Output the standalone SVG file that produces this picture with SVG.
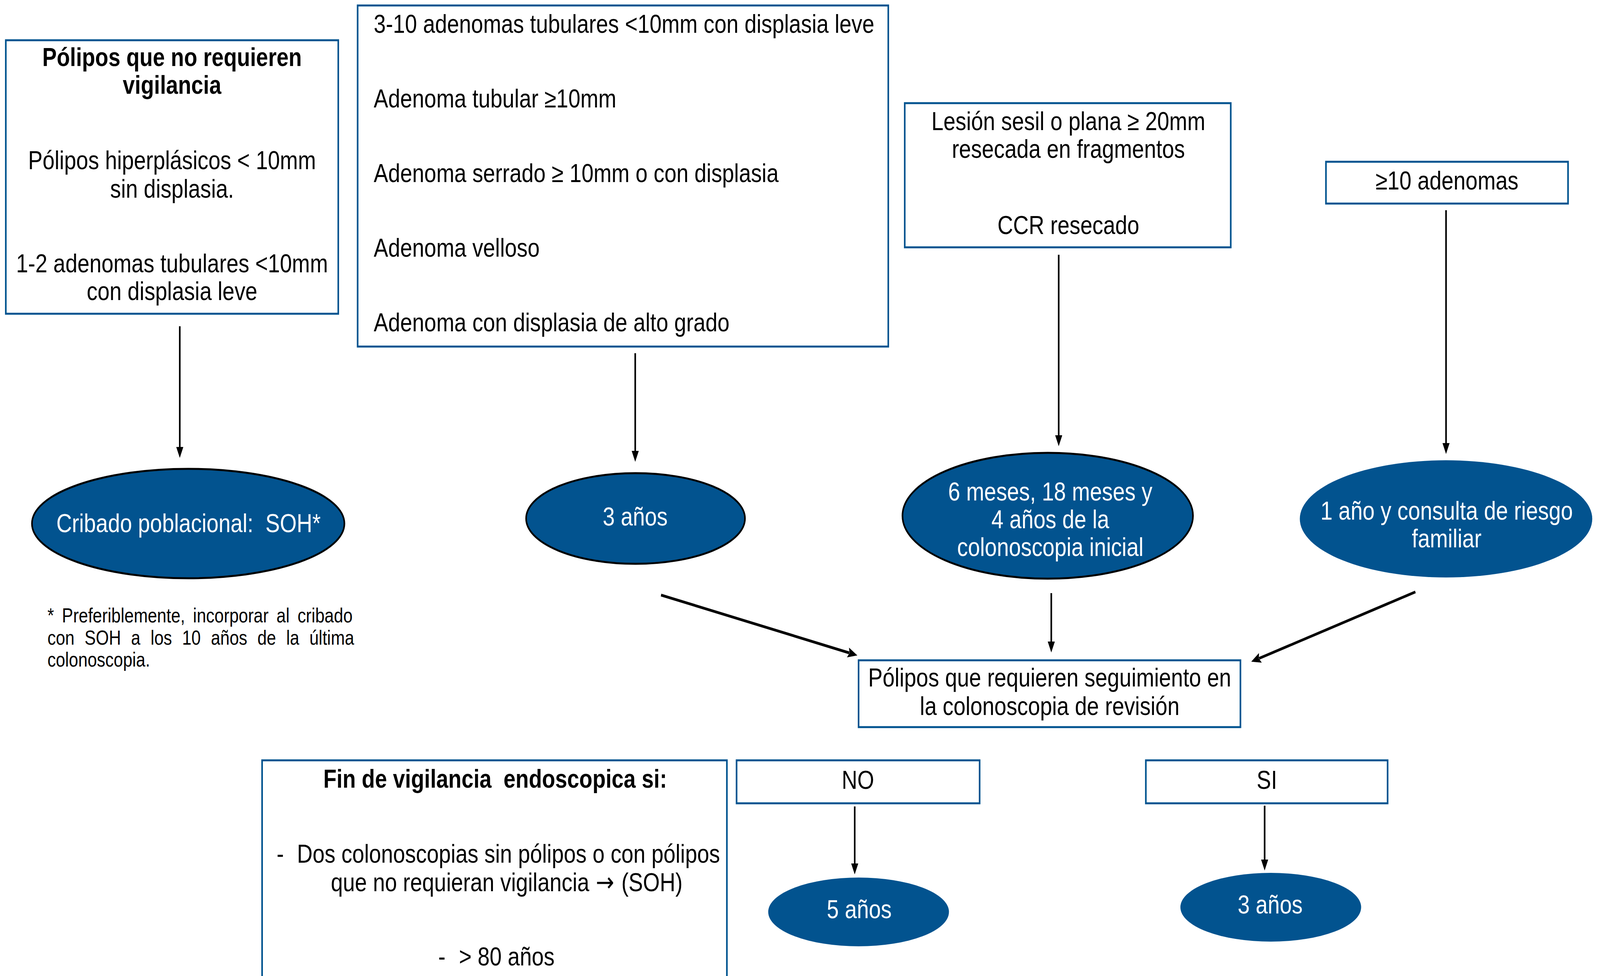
<svg xmlns="http://www.w3.org/2000/svg" width="4957" height="2498" viewBox="0 0 4957 2498" preserveAspectRatio="none" style="width:100vw;height:100vh;display:block">
<style>
.box{fill:#fff;stroke:#00538F;stroke-width:5}
.ell{fill:#02538F;stroke:#000;stroke-width:5}
.ell2{fill:#02538F;stroke:none}
.t{font-family:"Liberation Sans",Arial,Helvetica,sans-serif;font-size:67px;fill:#000}
.b{font-weight:bold}
.m{text-anchor:middle}
.w{fill:#fff}
.fn{font-size:52px}
.arw{font-family:"DejaVu Sans",sans-serif;font-size:68px;fill:#000}
.c{stroke:#000;stroke-width:5;fill:none}
.c2{stroke:#000;stroke-width:7;fill:none}
</style>
<defs>
<marker id="ah" markerUnits="userSpaceOnUse" markerWidth="28" markerHeight="22" refX="0" refY="11" orient="auto" viewBox="0 0 28 22">
<path d="M0,0 L28,11 L0,22 Z" fill="#000"/>
</marker>
<marker id="ah2" markerUnits="userSpaceOnUse" markerWidth="30" markerHeight="26" refX="4" refY="13" orient="auto" viewBox="0 0 30 26">
<path d="M0,0 L30,13 L0,26 L5,13 Z" fill="#000"/>
</marker>
</defs>
<rect width="4957" height="2498" fill="#fff"/>

<g id="connectors">
<line class="c" x1="557" y1="835" x2="557" y2="1144" marker-end="url(#ah)"/>
<line class="c" x1="1968" y1="904" x2="1968" y2="1154" marker-end="url(#ah)"/>
<line class="c" x1="3280" y1="652" x2="3280" y2="1114" marker-end="url(#ah)"/>
<line class="c" x1="4480" y1="538" x2="4480" y2="1134" marker-end="url(#ah)"/>
<line class="c2" x1="2048" y1="1523" x2="2631" y2="1671" marker-end="url(#ah2)"/>
<line class="c" x1="3257" y1="1518" x2="3257" y2="1642" marker-end="url(#ah)"/>
<line class="c2" x1="4385" y1="1515" x2="3901" y2="1685" marker-end="url(#ah2)"/>
<line class="c" x1="2648" y1="2064" x2="2648" y2="2210" marker-end="url(#ah)"/>
<line class="c" x1="3918" y1="2062" x2="3918" y2="2200" marker-end="url(#ah)"/>
</g>

<g id="no-vigilancia">
<rect class="box" x="18" y="103" width="1030" height="700"/>
<text class="t b m"><tspan x="533" y="169">Pólipos que no requieren</tspan><tspan x="533" y="240">vigilancia</tspan></text>
<text class="t m"><tspan x="533" y="433">Pólipos hiperplásicos &lt; 10mm</tspan><tspan x="533" y="506">sin displasia.</tspan><tspan x="533" y="697">1-2 adenomas tubulares &lt;10mm</tspan><tspan x="533" y="768">con displasia leve</tspan></text>
</g>

<g id="adenomas">
<rect class="box" x="1108" y="14" width="1644" height="873"/>
<text class="t"><tspan x="1158" y="84">3-10 adenomas tubulares &lt;10mm con displasia leve</tspan><tspan x="1158" y="275">Adenoma tubular ≥10mm</tspan><tspan x="1158" y="466">Adenoma serrado ≥ 10mm o con displasia</tspan><tspan x="1158" y="657">Adenoma velloso</tspan><tspan x="1158" y="848">Adenoma con displasia de alto grado</tspan></text>
</g>

<g id="lesion">
<rect class="box" x="2803" y="264" width="1010" height="369"/>
<text class="t m"><tspan x="3310" y="333">Lesión sesil o plana ≥ 20mm</tspan><tspan x="3310" y="404">resecada en fragmentos</tspan><tspan x="3310" y="599">CCR resecado</tspan></text>
</g>

<g id="diez-adenomas">
<rect class="box" x="4108" y="414" width="750" height="107"/>
<text class="t m" x="4483" y="485">≥10 adenomas</text>
</g>

<g id="cribado">
<ellipse class="ell" cx="583" cy="1340" rx="484" ry="140"/>
<text class="t m w" x="584" y="1362">Cribado poblacional: &#160;SOH*</text>
</g>

<g id="footnote">
<text class="t fn"><tspan x="147" y="1593" word-spacing="10.2">* Preferiblemente, incorporar al cribado</tspan><tspan x="147" y="1650" word-spacing="16.9">con SOH a los 10 años de la última</tspan><tspan x="147" y="1706">colonoscopia.</tspan></text>
</g>

<g id="tres-anos">
<ellipse class="ell" cx="1969" cy="1327" rx="339" ry="116"/>
<text class="t m w" x="1968" y="1345">3 años</text>
</g>

<g id="seis-meses">
<ellipse class="ell" cx="3246" cy="1320" rx="450" ry="161"/>
<text class="t m w"><tspan x="3254" y="1281">6 meses, 18 meses y</tspan><tspan x="3254" y="1352">4 años de la</tspan><tspan x="3254" y="1423">colonoscopia inicial</tspan></text>
</g>

<g id="un-ano">
<ellipse class="ell2" cx="4480" cy="1328" rx="453" ry="150"/>
<text class="t m w"><tspan x="4482" y="1330">1 año y consulta de riesgo</tspan><tspan x="4482" y="1401">familiar</tspan></text>
</g>

<g id="seguimiento">
<rect class="box" x="2660" y="1690" width="1183" height="171"/>
<text class="t m"><tspan x="3252" y="1757">Pólipos que requieren seguimiento en</tspan><tspan x="3252" y="1830">la colonoscopia de revisión</tspan></text>
</g>

<g id="fin-vigilancia">
<rect class="box" x="812" y="1946" width="1440" height="560"/>
<text class="t b m" x="1534" y="2016">Fin de vigilancia &#160;endoscopica si:</text>
<text class="t"><tspan x="857" y="2208">-</tspan><tspan x="920" y="2208">Dos colonoscopias sin pólipos o con pólipos</tspan></text>
<text class="t" x="1025" y="2281">que no requieran vigilancia</text>
<text class="arw" x="1846" y="2281">→</text>
<text class="t" x="1925" y="2281">(SOH)</text>
<text class="t"><tspan x="1358" y="2471">-</tspan><tspan x="1422" y="2471">&gt; 80 años</tspan></text>
</g>

<g id="no">
<rect class="box" x="2282" y="1946" width="753" height="110"/>
<text class="t m" x="2658" y="2019">NO</text>
</g>

<g id="si">
<rect class="box" x="3550" y="1946" width="749" height="110"/>
<text class="t m" x="3925" y="2019">SI</text>
</g>

<g id="cinco-anos">
<ellipse class="ell2" cx="2660" cy="2334" rx="280" ry="88"/>
<text class="t m w" x="2662" y="2350">5 años</text>
</g>

<g id="tres-anos-si">
<ellipse class="ell2" cx="3937" cy="2322" rx="280" ry="88"/>
<text class="t m w" x="3935" y="2338">3 años</text>
</g>
</svg>
